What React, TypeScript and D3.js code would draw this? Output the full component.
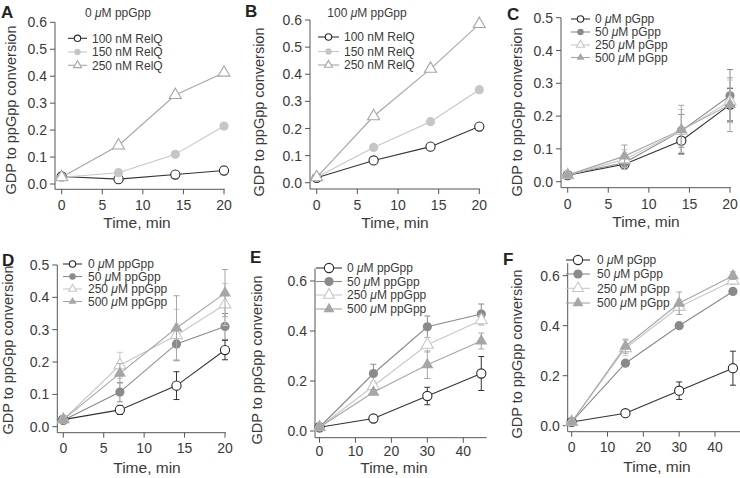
import React from 'react';
import * as d3 from 'd3';

// ---------- data ----------
const timeShort = [0, 7, 14, 20];
const timeLong = [0, 15, 30, 45];

const ticksX20 = [0, 5, 10, 15, 20];
const ticksX40 = [0, 10, 20, 30, 40];
const ticksY06 = [0, 0.1, 0.2, 0.3, 0.4, 0.5, 0.6];
const ticksY05 = [0, 0.1, 0.2, 0.3, 0.4, 0.5];
const ticksY06b = [0, 0.2, 0.4, 0.6];

// Panel A (0 µM ppGpp)
const a100 = [0.028, 0.018, 0.035, 0.05];
const a150 = [0.025, 0.042, 0.11, 0.215];
const a250 = [0.025, 0.143, 0.33, 0.413];
// Panel B (100 µM ppGpp)
const b100 = [0.018, 0.082, 0.133, 0.207];
const b150 = [0.02, 0.13, 0.225, 0.343];
const b250 = [0.02, 0.245, 0.42, 0.585];
// Panel C (pGpp)
const c0 = [0.02, 0.053, 0.125, 0.235];
const c0Err = [0, 0.01, 0.04, 0.05];
const c50 = [0.022, 0.058, 0.155, 0.262];
const c50Err = [0, 0.02, 0.05, 0.08];
const c250 = [0.02, 0.068, 0.155, 0.245];
const c250Err = [0, 0.03, 0.065, 0.065];
const c500 = [0.02, 0.078, 0.158, 0.235];
const c500Err = [0, 0.034, 0.075, 0.082];
// Panel D (ppGpp)
const d0 = [0.022, 0.052, 0.127, 0.237];
const d0Err = [0, 0.014, 0.043, 0.03];
const d50 = [0.02, 0.107, 0.256, 0.31];
const d50Err = [0, 0.03, 0.05, 0.04];
const d250 = [0.022, 0.19, 0.283, 0.378];
const d250Err = [0, 0.04, 0.08, 0.065];
const d500 = [0.022, 0.165, 0.305, 0.413];
const d500Err = [0, 0.03, 0.1, 0.073];
// Panel E (ppGpp, long)
const e0 = [0.015, 0.05, 0.14, 0.23];
const e0Err = [0, 0.005, 0.035, 0.068];
const e50 = [0.015, 0.23, 0.417, 0.468];
const e50Err = [0, 0.037, 0.043, 0.04];
const e250 = [0.015, 0.18, 0.345, 0.443];
const e250Err = [0, 0.02, 0.03, 0.02];
const e500 = [0.015, 0.155, 0.265, 0.36];
const e500Err = [0, 0.01, 0.055, 0.032];
// Panel F (pGpp, long)
const f0 = [0.015, 0.05, 0.14, 0.23];
const f0Err = [0, 0.005, 0.035, 0.068];
const f50 = [0.015, 0.25, 0.4, 0.537];
const f50Err = [0, 0.008, 0.008, 0.008];
const f250 = [0.015, 0.31, 0.475, 0.58];
const f250Err = [0, 0.03, 0.03, 0.015];
const f500 = [0.015, 0.318, 0.49, 0.6];
const f500Err = [0, 0.028, 0.045, 0.015];

// ---------- styles ----------
const FONT = 'Liberation Sans, Arial, Helvetica, sans-serif';
const TXT = '#3a3a3a';
const AX = '#555';
const STY: Record<string, { kind: string; color: string; line: string }> = {
  ring: { kind: 'ring', color: '#2a2a2a', line: '#333' },
  dark: { kind: 'dot', color: '#8a8a8a', line: '#8a8a8a' },
  light: { kind: 'dot', color: '#c6c6c6', line: '#c6c6c6' },
  triGray: { kind: 'triOpen', color: '#a6a6a6', line: '#a6a6a6' },
  triLight: { kind: 'triOpen', color: '#c8c8c8', line: '#c8c8c8' },
  triFill: { kind: 'triFill', color: '#a6a6a6', line: '#a6a6a6' },
};

type Series = { label: string; values: number[]; err?: number[]; style: string };
type Panel = {
  letter: string; lx: number; ly: number;
  title?: string; tx?: number; ty?: number;
  times: number[]; series: Series[];
  yAxisX: number; xAxisY: number;
  xDom: [number, number]; xRange: [number, number];
  yDom: [number, number]; yRange: [number, number];
  xAxisEnd: number; yTop: number;
  xTicks: number[]; yTicks: number[]; yFmt: (v: number) => string;
  tickBase: number; titleBase: number; titleX: number;
  ylx: number; yly: number;
  leg: { x1: number; x2: number; tx: number; rows: number[]; big: boolean };
};

const f1 = (v: number) => v.toFixed(1);

const panels: Panel[] = [
  {
    letter: 'A', lx: 1, ly: 18, title: '0 ', tx: 118, ty: 17,
    times: timeShort,
    series: [
      { label: '100 nM RelQ', values: a100, style: 'ring' },
      { label: '150 nM RelQ', values: a150, style: 'light' },
      { label: '250 nM RelQ', values: a250, style: 'triGray' },
    ],
    yAxisX: 55, xAxisY: 189.3, xDom: [0, 20], xRange: [61.7, 224], yDom: [0, 0.6], yRange: [184, 22.3],
    xAxisEnd: 20.1, yTop: 0.6, xTicks: ticksX20, yTicks: ticksY06, yFmt: f1,
    tickBase: 210, titleBase: 228, titleX: 137, ylx: 11, yly: 110,
    leg: { x1: 68, x2: 87, tx: 92, rows: [38.3, 52, 65.3], big: false },
  },
  {
    letter: 'B', lx: 245, ly: 17, title: '100 ', tx: 367, ty: 17,
    times: timeShort,
    series: [
      { label: '100 nM RelQ', values: b100, style: 'ring' },
      { label: '150 nM RelQ', values: b150, style: 'light' },
      { label: '250 nM RelQ', values: b250, style: 'triGray' },
    ],
    yAxisX: 310, xAxisY: 189, xDom: [0, 20], xRange: [316.7, 479.3], yDom: [0, 0.6], yRange: [182.7, 20],
    xAxisEnd: 20.1, yTop: 0.6, xTicks: ticksX20, yTicks: ticksY06, yFmt: f1,
    tickBase: 210, titleBase: 228, titleX: 395, ylx: 259, yly: 112,
    leg: { x1: 318, x2: 339, tx: 344, rows: [37, 51.5, 65], big: false },
  },
  {
    letter: 'C', lx: 507, ly: 20,
    times: timeShort,
    series: [
      { label: '0 ', values: c0, err: c0Err, style: 'ring' },
      { label: '50 ', values: c50, err: c50Err, style: 'dark' },
      { label: '250 ', values: c250, err: c250Err, style: 'triLight' },
      { label: '500 ', values: c500, err: c500Err, style: 'triFill' },
    ],
    yAxisX: 561, xAxisY: 187.7, xDom: [0, 20], xRange: [567.7, 730], yDom: [0, 0.5], yRange: [181.7, 17.7],
    xAxisEnd: 20.1, yTop: 0.5, xTicks: ticksX20, yTicks: ticksY05, yFmt: f1,
    tickBase: 209, titleBase: 227, titleX: 646, ylx: 517, yly: 112,
    leg: { x1: 571, x2: 590, tx: 595, rows: [19, 32, 45, 57.5], big: false },
  },
  {
    letter: 'D', lx: 2, ly: 266,
    times: timeShort,
    series: [
      { label: '0 ', values: d0, err: d0Err, style: 'ring' },
      { label: '50 ', values: d50, err: d50Err, style: 'dark' },
      { label: '250 ', values: d250, err: d250Err, style: 'triLight' },
      { label: '500 ', values: d500, err: d500Err, style: 'triFill' },
    ],
    yAxisX: 57.3, xAxisY: 432.7, xDom: [0, 20], xRange: [63.3, 225], yDom: [0, 0.5], yRange: [426.7, 265],
    xAxisEnd: 20.1, yTop: 0.5, xTicks: ticksX20, yTicks: ticksY05, yFmt: f1,
    tickBase: 453, titleBase: 473, titleX: 147, ylx: 8, yly: 350,
    leg: { x1: 63, x2: 82, tx: 88, rows: [264, 276.5, 289, 301.5], big: false },
  },
  {
    letter: 'E', lx: 250, ly: 263,
    times: timeLong,
    series: [
      { label: '0 ', values: e0, err: e0Err, style: 'ring' },
      { label: '50 ', values: e50, err: e50Err, style: 'dark' },
      { label: '250 ', values: e250, err: e250Err, style: 'triLight' },
      { label: '500 ', values: e500, err: e500Err, style: 'triFill' },
    ],
    yAxisX: 315, xAxisY: 437.7, xDom: [0, 40], xRange: [319.5, 463.3], yDom: [0, 0.6], yRange: [431, 281],
    xAxisEnd: 46.5, yTop: 0.65, xTicks: ticksX40, yTicks: ticksY06b, yFmt: f1,
    tickBase: 456, titleBase: 473, titleX: 394, ylx: 257, yly: 360,
    leg: { x1: 316, x2: 342, tx: 347, rows: [268, 281.5, 295, 309], big: true },
  },
  {
    letter: 'F', lx: 503, ly: 265,
    times: timeLong,
    series: [
      { label: '0 ', values: f0, err: f0Err, style: 'ring' },
      { label: '50 ', values: f50, err: f50Err, style: 'dark' },
      { label: '250 ', values: f250, err: f250Err, style: 'triLight' },
      { label: '500 ', values: f500, err: f500Err, style: 'triFill' },
    ],
    yAxisX: 567.7, xAxisY: 431.7, xDom: [0, 40], xRange: [571.7, 715], yDom: [0, 0.6], yRange: [425.7, 275.7],
    xAxisEnd: 47, yTop: 0.65, xTicks: ticksX40, yTicks: ticksY06b, yFmt: f1,
    tickBase: 452, titleBase: 472, titleX: 657, ylx: 517, yly: 354,
    leg: { x1: 566, x2: 590, tx: 597, rows: [260, 274, 288.3, 303], big: true },
  },
];

const legendSuffix: Record<string, string> = { C: 'pGpp', D: 'ppGpp', E: 'ppGpp', F: 'pGpp' };

function Marker({ kind, x, y, color, r, tri }: { kind: string; x: number; y: number; color: string; r: number; tri: number }) {
  if (kind === 'ring') return <circle cx={x} cy={y} r={r} fill="#fff" stroke={color} strokeWidth={1.1} />;
  if (kind === 'dot') return <circle cx={x} cy={y} r={r} fill={color} />;
  const h = tri * 0.866;
  const p = `M${x},${y - (h * 2) / 3}L${x - tri / 2},${y + h / 3}L${x + tri / 2},${y + h / 3}Z`;
  if (kind === 'triOpen') return <path d={p} fill="#fff" stroke={color} strokeWidth={1.1} />;
  return <path d={p} fill={color} />;
}

function PanelView({ p }: { p: Panel }) {
  const x = d3.scaleLinear().domain(p.xDom).range(p.xRange);
  const y = d3.scaleLinear().domain(p.yDom).range(p.yRange);
  const line = d3.line<[number, number]>().x((d) => x(d[0])).y((d) => y(d[1]));
  const mu = (pre: string, post: string) => (
    <>
      {pre}
      <tspan fontStyle="italic">μ</tspan>
      {post}
    </>
  );
  return (
    <g>
      <text x={p.lx} y={p.ly} fontSize={17} fontWeight="bold" fill="#222">{p.letter}</text>
      {p.title && (
        <text x={p.tx} y={p.ty} fontSize={12} fill={TXT} textAnchor="middle">{mu(p.title, 'M ppGpp')}</text>
      )}
      {/* axes */}
      <path d={`M${p.yAxisX},${y(p.yTop)}V${p.xAxisY}H${x(p.xAxisEnd)}`} fill="none" stroke={AX} strokeWidth={1} />
      {p.yTicks.map((t) => (
        <g key={'y' + t}>
          <line x1={p.yAxisX - 5} x2={p.yAxisX} y1={y(t)} y2={y(t)} stroke={AX} />
          <text x={p.yAxisX - 8} y={y(t)} dy="0.36em" fontSize={14} textAnchor="end" fill={TXT}>{p.yFmt(t)}</text>
        </g>
      ))}
      {p.xTicks.map((t) => (
        <g key={'x' + t}>
          <line x1={x(t)} x2={x(t)} y1={p.xAxisY} y2={p.xAxisY + 5} stroke={AX} />
          <text x={x(t)} y={p.tickBase} fontSize={14} textAnchor="middle" fill={TXT}>{t}</text>
        </g>
      ))}
      <text x={p.titleX} y={p.titleBase} fontSize={15.5} textAnchor="middle" fill={TXT}>Time, min</text>
      <text transform={`translate(${p.ylx},${p.yly}) rotate(-90)`} dy="0.36em" fontSize={14.5} textAnchor="middle" fill={TXT}>
        GDP to ppGpp conversion
      </text>
      {/* series */}
      {p.series.map((s, i) => {
        const st = STY[s.style];
        const pts = p.times.map((t, j) => [t, s.values[j]] as [number, number]);
        return (
          <g key={'s' + i}>
            <path d={line(pts) || ''} fill="none" stroke={st.line} strokeWidth={1.1} />
            {s.err && pts.map((d, j) => s.err![j] > 0 ? (
              <g key={'e' + j} stroke={st.line} strokeWidth={1}>
                <line x1={x(d[0])} x2={x(d[0])} y1={y(d[1] - s.err![j])} y2={y(d[1] + s.err![j])} />
                <line x1={x(d[0]) - 3} x2={x(d[0]) + 3} y1={y(d[1] - s.err![j])} y2={y(d[1] - s.err![j])} />
                <line x1={x(d[0]) - 3} x2={x(d[0]) + 3} y1={y(d[1] + s.err![j])} y2={y(d[1] + s.err![j])} />
              </g>
            ) : null)}
            {pts.map((d, j) => (
              <Marker key={'m' + j} kind={st.kind} x={x(d[0])} y={y(d[1])} color={st.color} r={4.6} tri={12} />
            ))}
          </g>
        );
      })}
      {/* legend */}
      {p.series.map((s, i) => {
        const st = STY[s.style];
        const yy = p.leg.rows[i];
        const mx = (p.leg.x1 + p.leg.x2) / 2;
        return (
          <g key={'l' + i}>
            <line x1={p.leg.x1} x2={p.leg.x2} y1={yy} y2={yy} stroke={st.line} strokeWidth={1.1} />
            <Marker kind={st.kind} x={mx} y={yy} color={st.color} r={p.leg.big ? 4.6 : 3.2} tri={p.leg.big ? 11 : 8} />
            <text x={p.leg.tx} y={yy} dy="0.36em" fontSize={12} fill={TXT}>
              {legendSuffix[p.letter] ? mu(s.label, 'M ' + legendSuffix[p.letter]) : s.label}
            </text>
          </g>
        );
      })}
    </g>
  );
}

export default function App() {
  return (
    <svg width={740} height={478} style={{ position: 'absolute', left: 0, top: 0, background: '#fff' }} fontFamily={FONT}>
      <rect width={740} height={478} fill="#fff" />
      {panels.map((p) => <PanelView key={p.letter} p={p} />)}
    </svg>
  );
}
